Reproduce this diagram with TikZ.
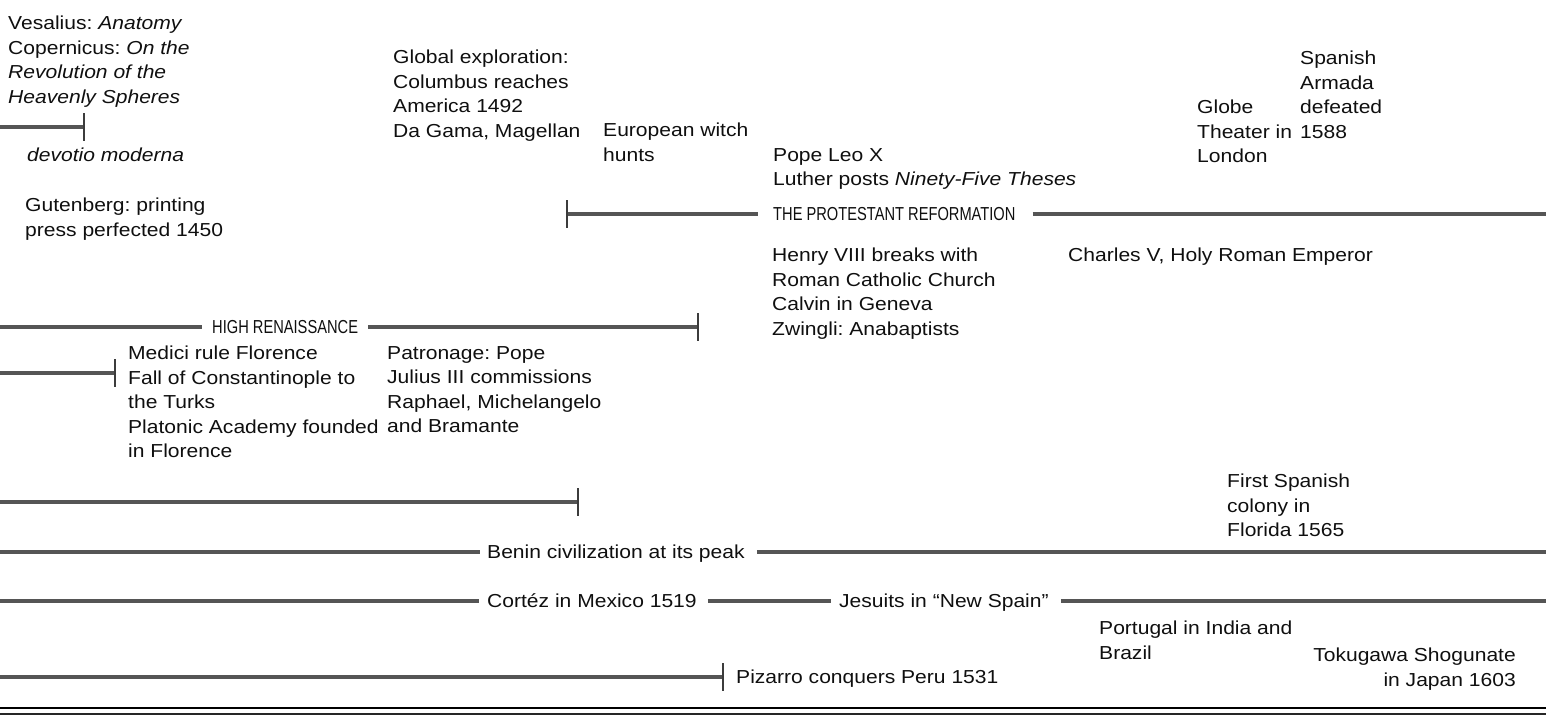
\documentclass[tikz,border=0pt]{standalone}
\usepackage{fontspec}
\setmainfont[FakeStretch=1.12]{Liberation Sans}
\newfontfamily\condfont[FakeStretch=0.78]{Liberation Sans}
\definecolor{linegray}{RGB}{85,85,85}
\definecolor{tickgray}{RGB}{60,60,60}
\definecolor{ink}{RGB}{15,15,15}
\newcommand\tickat[1]{\draw[tk] ([yshift=14pt]#1) -- ([yshift=-14pt]#1);}
\begin{document}
\frenchspacing
\begin{tikzpicture}[x=1pt,y=-1pt,
  txt/.style={font=\fontsize{18.8pt}{24.5pt}\selectfont, align=left, inner sep=0pt, anchor=north west, text=ink},
  txtr/.style={txt, align=right, anchor=north east},
  one/.style={font=\fontsize{18.8pt}{24.5pt}\selectfont, inner sep=0pt, anchor=west, text height=13.5pt, text depth=0pt, text=ink},
  capl/.style={font=\condfont\fontsize{18.8pt}{22pt}\selectfont, inner sep=0pt, anchor=west, text height=13.3pt, text depth=0pt, text=ink},
  tl/.style={draw=linegray, line width=3.2pt},
  tk/.style={draw=tickgray, line width=2pt}]
\useasboundingbox (0,0) rectangle (1546,716);

% ---- text blocks ----
\node[txt] (ves) at (8,16) {Vesalius: \textit{Anatomy}\\Copernicus: \textit{On the}\\\textit{Revolution of the}\\\textit{Heavenly Spheres}};
\node[one] (devotio) at (27,155) {\textit{devotio moderna}};
\node[txt] (gut) at (25,198) {Gutenberg: printing\\press perfected 1450};
\node[txt] (glob) at (393,50) {Global exploration:\\Columbus reaches\\America 1492\\Da Gama, Magellan};
\node[txt] (witch) at (603,123) {European witch\\hunts};
\node[txt] (pope) at (773,148) {Pope Leo X\\Luther posts \textit{Ninety-Five Theses}};
\node[txt] (henry) at (772,248) {Henry VIII breaks with\\Roman Catholic Church\\Calvin in Geneva\\Zwingli: Anabaptists};
\node[one] (charles) at (1068,255) {Charles V, Holy Roman Emperor};
\node[txt] (globe) at (1197,100) {Globe\\Theater in\\London};
\node[txt] (armada) at (1300,51) {Spanish\\Armada\\defeated\\1588};
\node[txt] (medici) at (128,346) {Medici rule Florence\\Fall of Constantinople to\\the Turks\\Platonic Academy founded\\in Florence};
\node[txt] (patron) at (387,346) {Patronage: Pope\\Julius III commissions\\Raphael, Michelangelo\\and Bramante};
\node[txt] (florida) at (1227,474) {First Spanish\\colony in\\Florida 1565};
\node[txt] (portugal) at (1099,621) {Portugal in India and\\Brazil};
\node[txtr] (toku) at (1516,648) {Tokugawa Shogunate\\in Japan 1603};
\node[one] (pizarro) at (736,677) {Pizarro conquers Peru 1531};

% ---- labels on time lines ----
\node[capl] (prot) at (773,214) {THE PROTESTANT REFORMATION};
\node[capl] (hr) at (212,327) {HIGH RENAISSANCE};
\node[one] (benin) at (487,552) {Benin civilization at its peak};
\node[one] (cortez) at (487,601) {Cortéz in Mexico 1519};
\node[one] (jesuits) at (839,601) {Jesuits in ``New Spain''};

% ---- coordinates ----
\coordinate (aL) at (0,127);   \coordinate (aE) at (84,127);
\coordinate (pS) at (567,214); \coordinate (pR) at (1546,214);
\coordinate (hL) at (0,327);   \coordinate (hE) at (698,327);
\coordinate (mL) at (0,373);   \coordinate (mE) at (115,373);
\coordinate (sL) at (0,502);   \coordinate (sE) at (578,502);
\coordinate (bL) at (0,552);   \coordinate (bR) at (1546,552);
\coordinate (cL) at (0,601);   \coordinate (cR) at (1546,601);
\coordinate (zL) at (0,677);   \coordinate (zE) at (723,677);
\coordinate (f1L) at (0,708);  \coordinate (f1R) at (1546,708);
\coordinate (f2L) at (0,714);  \coordinate (f2R) at (1546,714);

% ---- time lines ----
\draw[tl] (aL) -- (aE); \tickat{aE}
\draw[tl] (pS) -- ([xshift=-15pt]prot.west); \tickat{pS}
\draw[tl] ([xshift=17pt]prot.east) -- (pR);
\draw[tl] (hL) -- ([xshift=-10pt]hr.west);
\draw[tl] ([xshift=10pt]hr.east) -- (hE); \tickat{hE}
\draw[tl] (mL) -- (mE); \tickat{mE}
\draw[tl] (sL) -- (sE); \tickat{sE}
\draw[tl] (bL) -- ([xshift=-7pt]benin.west);
\draw[tl] ([xshift=12pt]benin.east) -- (bR);
\draw[tl] (cL) -- ([xshift=-8pt]cortez.west);
\draw[tl] ([xshift=11pt]cortez.east) -- ([xshift=-8pt]jesuits.west);
\draw[tl] ([xshift=12pt]jesuits.east) -- (cR);
\draw[tl] (zL) -- (zE); \tickat{zE}
\draw[draw=black, line width=1.2pt] (f1L) -- (f1R);
\draw[draw=black!85, line width=2.8pt] (f2L) -- (f2R);
\end{tikzpicture}
\end{document}
